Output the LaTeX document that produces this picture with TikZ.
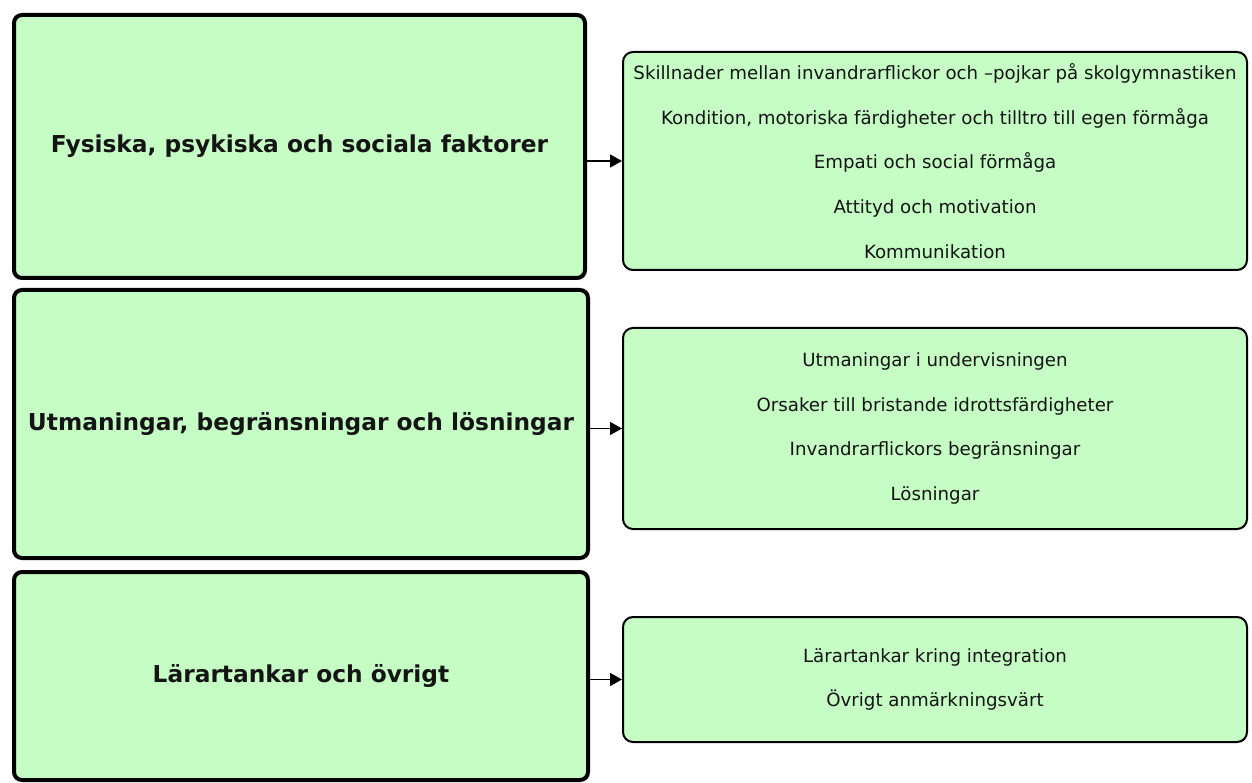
\documentclass[tikz,border=0pt]{standalone}
\usepackage{fontspec}
\setmainfont{DejaVu Sans}
\usetikzlibrary{arrows.meta}
\definecolor{boxgreen}{RGB}{197,253,197}
\definecolor{inktext}{RGB}{20,20,20}
\begin{document}
\begin{tikzpicture}[x=1pt,y=-1pt,
  mainbox/.style={draw=black, fill=boxgreen, line width=4pt, rounded corners=8pt, inner sep=0pt,
    text=inktext, font=\bfseries\fontsize{23.3}{28}\selectfont},
  subbox/.style={draw=black, fill=boxgreen, line width=2pt, rounded corners=10pt, inner sep=0pt,
    text=inktext, align=center, minimum width=624pt, font=\fontsize{18.2}{44.7}\selectfont},
  link/.style={line width=1.4pt, -{Triangle[length=12pt,width=13pt]}}]
\useasboundingbox (0,0) rectangle (1252,783);
\node[mainbox, minimum width=571pt, minimum height=263pt] (L1) at (299.5,146.5) {Fysiska, psykiska och sociala faktorer};
\node[mainbox, minimum width=574pt, minimum height=268pt] (L2) at (301,424) {Utmaningar, begränsningar och lösningar};
\node[mainbox, minimum width=574pt, minimum height=208pt] (L3) at (301,676) {Lärartankar och övrigt};
\node[subbox, minimum height=218pt] (R1) at (935,161) {Skillnader mellan invandrarflickor och –pojkar på skolgymnastiken\\Kondition, motoriska färdigheter och tilltro till egen förmåga\\Empati och social förmåga\\Attityd och motivation\\Kommunikation};
\node[subbox, minimum height=201pt] (R2) at (935,428.5) {Utmaningar i undervisningen\\Orsaker till bristande idrottsfärdigheter\\Invandrarflickors begränsningar\\Lösningar};
\node[subbox, minimum height=125pt] (R3) at (935,679.5) {Lärartankar kring integration\\Övrigt anmärkningsvärt};
\draw[link] (L1.east |- R1.west) -- (R1.west);
\draw[link] (L2.east |- R2.west) -- (R2.west);
\draw[link] (L3.east |- R3.west) -- (R3.west);
\end{tikzpicture}
\end{document}
